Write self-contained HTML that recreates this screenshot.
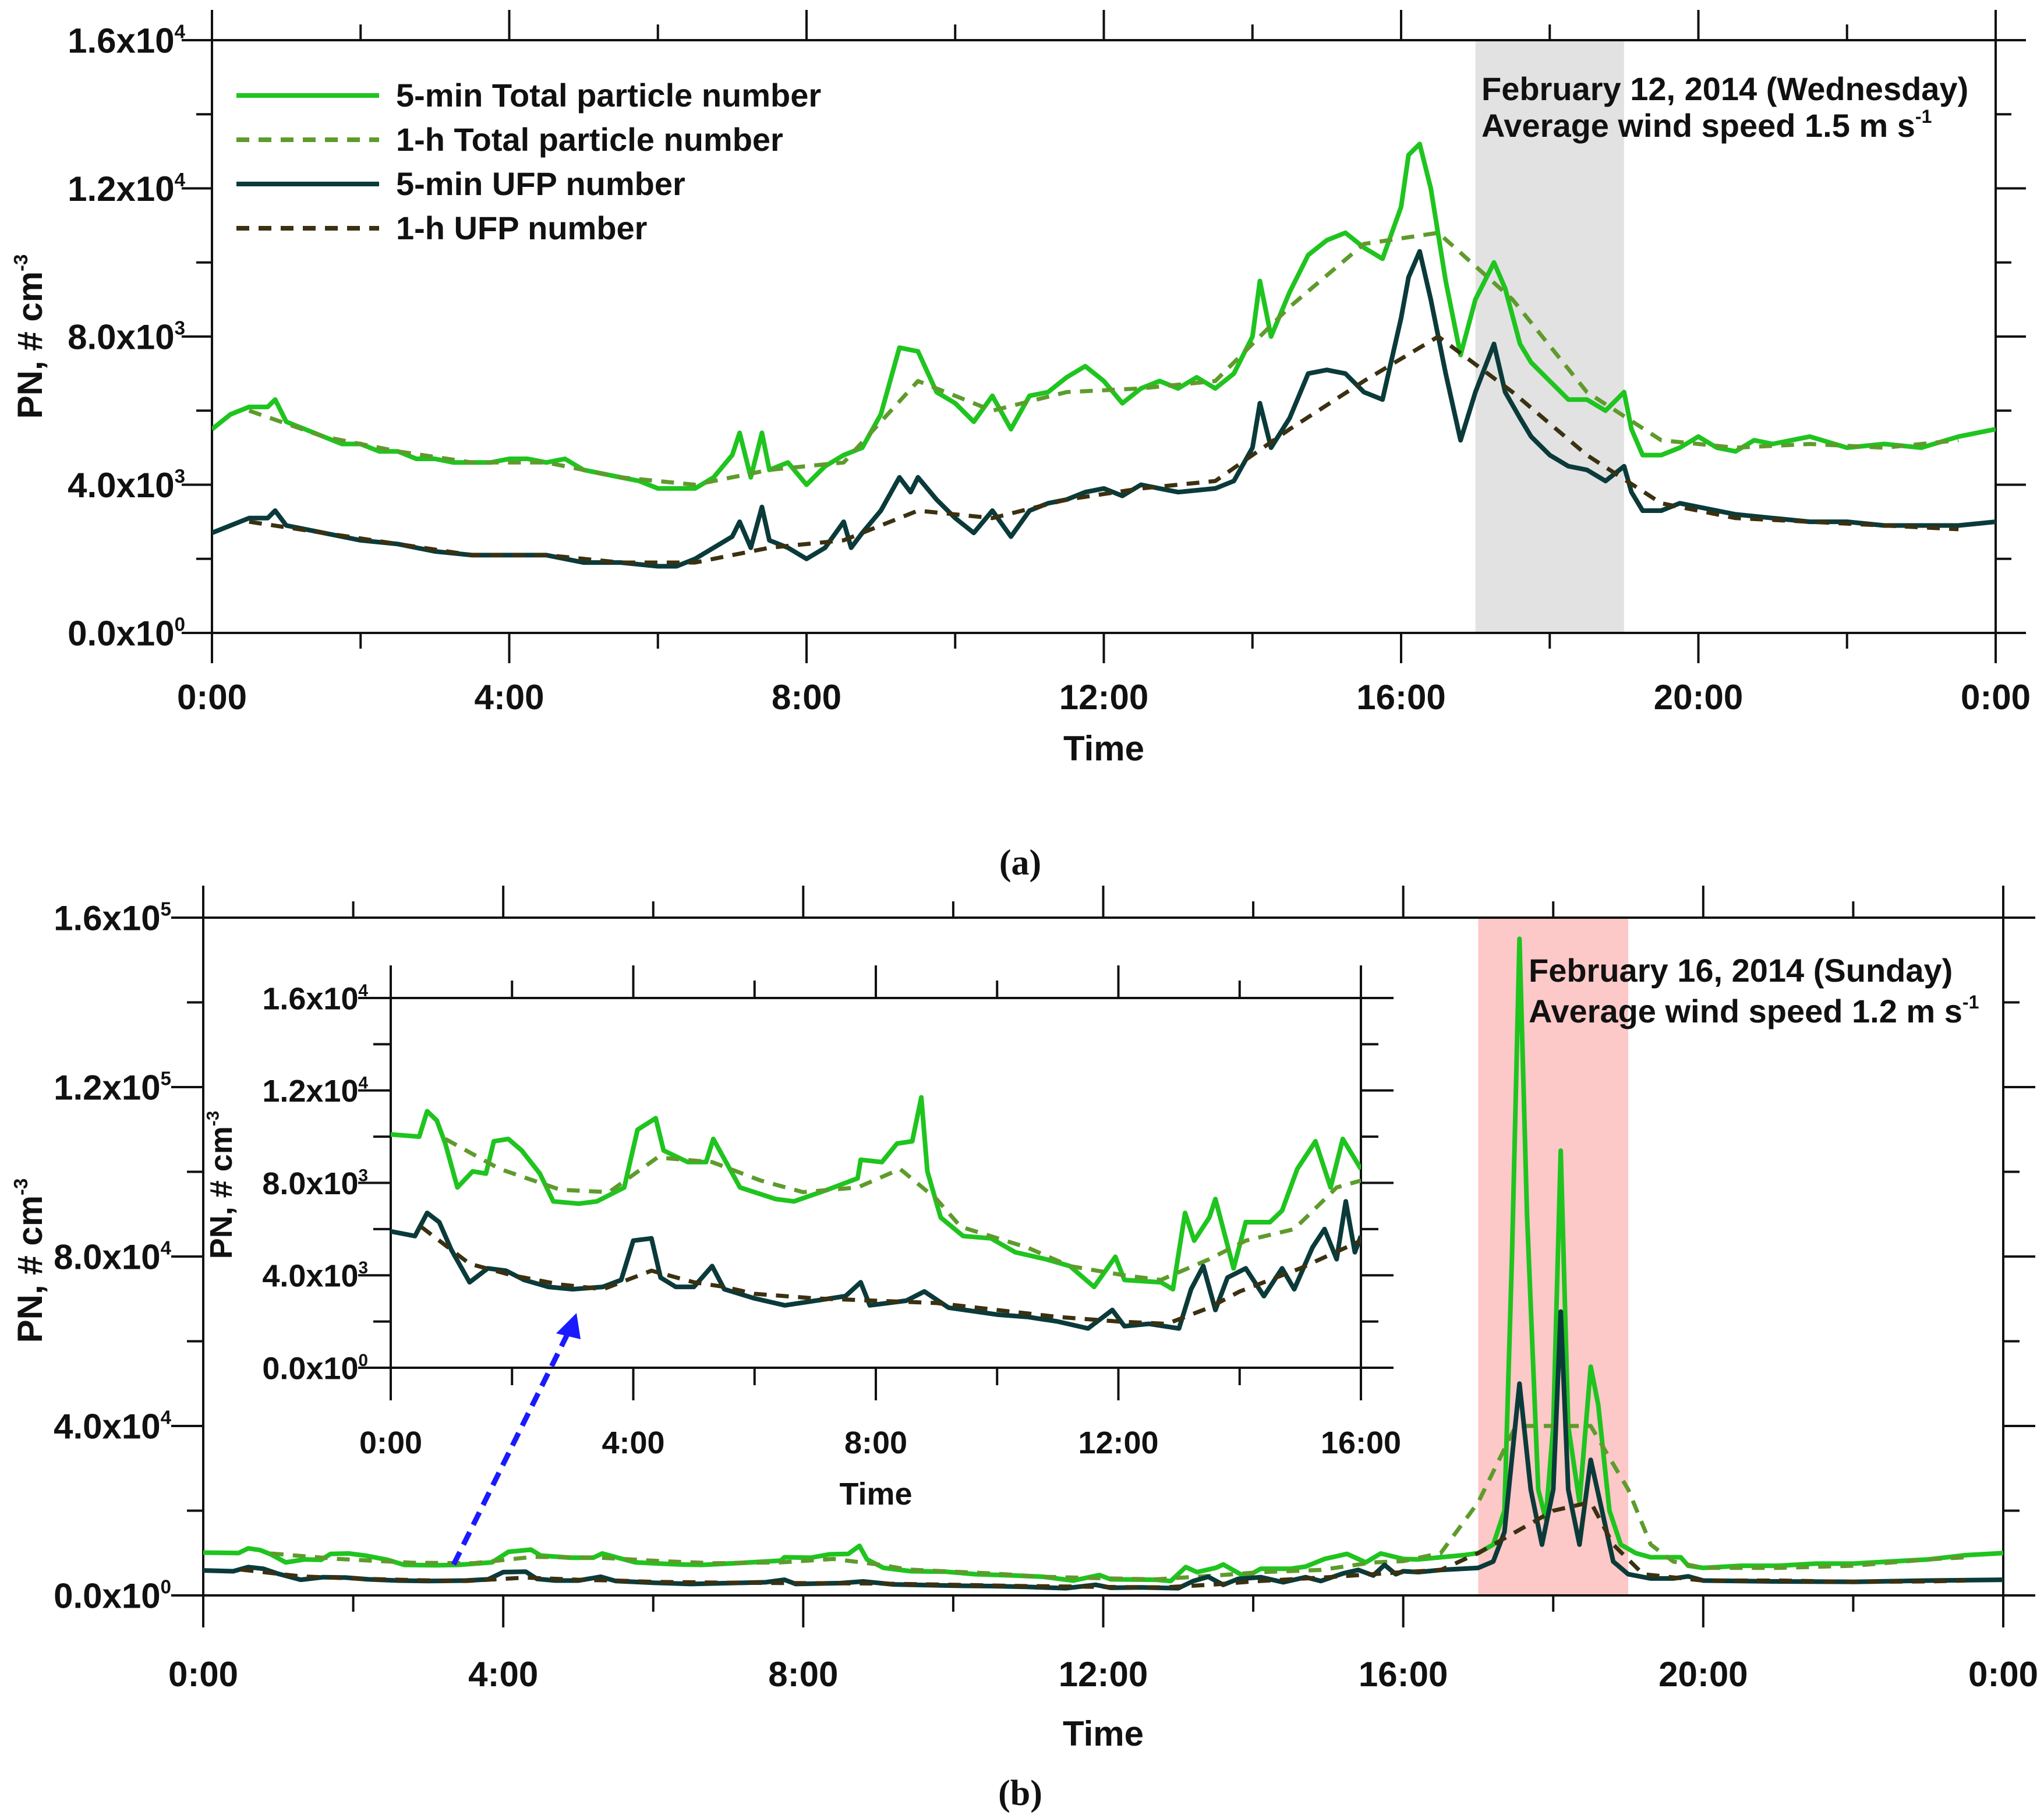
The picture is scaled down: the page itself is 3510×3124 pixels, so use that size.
<!DOCTYPE html>
<html><head><meta charset="utf-8"><style>
html,body{margin:0;padding:0;background:#fff}
svg{display:block}
text{font-family:"Liberation Sans",sans-serif;font-weight:bold;fill:#111}
</style></head><body>
<svg id="fig" width="3510" height="3124" viewBox="0 0 3510 3124" xmlns="http://www.w3.org/2000/svg">
<defs>
<clipPath id="clipA"><rect x="364" y="69" width="3063" height="1018"/></clipPath>
<clipPath id="clipB"><rect x="349" y="1576" width="3091" height="1164"/></clipPath>
<clipPath id="clipI"><rect x="671" y="1714" width="1666" height="635"/></clipPath>
</defs>
<g id="panelA"></g>
<g id="panelB"></g>
<g id="inset"></g>
<text x="1752" y="1502" text-anchor="middle" style="font-family:'Liberation Serif',serif;font-weight:bold;font-size:62px">(a)</text>
<text x="1752" y="3100" text-anchor="middle" style="font-family:'Liberation Serif',serif;font-weight:bold;font-size:62px">(b)</text>
</svg>
<script>
// ---------- Panel (a) data (values in thousands, times in hours) ----------
const aTotT=[0,0.25,0.5,0.75,0.85,1,1.25,1.5,1.75,2,2.25,2.5,2.75,3,3.25,3.5,3.75,4,4.25,4.5,4.75,5,5.25,5.5,5.75,6,6.25,6.5,6.75,7,7.1,7.25,7.4,7.5,7.75,8,8.25,8.5,8.75,9,9.25,9.5,9.75,10,10.25,10.5,10.75,11,11.25,11.5,11.75,12,12.25,12.5,12.75,13,13.25,13.5,13.75,14,14.1,14.25,14.5,14.75,15,15.25,15.5,15.75,16,16.1,16.25,16.4,16.6,16.8,17,17.25,17.4,17.6,17.75,18,18.25,18.5,18.75,19,19.1,19.25,19.5,19.75,20,20.25,20.5,20.75,21,21.5,22,22.5,23,23.5,24];
const aTotV=[5.5,5.9,6.1,6.1,6.3,5.7,5.5,5.3,5.1,5.1,4.9,4.9,4.7,4.7,4.6,4.6,4.6,4.7,4.7,4.6,4.7,4.4,4.3,4.2,4.1,3.9,3.9,3.9,4.2,4.8,5.4,4.2,5.4,4.4,4.6,4.0,4.5,4.8,5.0,5.9,7.7,7.6,6.5,6.2,5.7,6.4,5.5,6.4,6.5,6.9,7.2,6.8,6.2,6.6,6.8,6.6,6.9,6.6,7.0,8.0,9.5,8.0,9.2,10.2,10.6,10.8,10.4,10.1,11.5,12.9,13.2,12.0,9.5,7.5,9.0,10.0,9.3,7.8,7.3,6.8,6.3,6.3,6.0,6.5,5.5,4.8,4.8,5.0,5.3,5.0,4.9,5.2,5.1,5.3,5.0,5.1,5.0,5.3,5.5];
const aUfpT=[0,0.25,0.5,0.75,0.85,1,1.5,2,2.5,3,3.5,4,4.5,5,5.5,6,6.25,6.5,7,7.1,7.25,7.4,7.5,7.75,8,8.25,8.5,8.6,8.75,9,9.25,9.4,9.5,9.75,10,10.25,10.5,10.75,11,11.25,11.5,11.75,12,12.25,12.5,12.75,13,13.5,13.75,14,14.1,14.25,14.5,14.75,15,15.25,15.5,15.75,16,16.1,16.25,16.4,16.6,16.8,17,17.25,17.4,17.6,17.75,18,18.25,18.5,18.75,19,19.1,19.25,19.5,19.75,20,20.5,21,21.5,22,22.5,23,23.5,24];
const aUfpV=[2.7,2.9,3.1,3.1,3.3,2.9,2.7,2.5,2.4,2.2,2.1,2.1,2.1,1.9,1.9,1.8,1.8,2.0,2.6,3.0,2.3,3.4,2.5,2.3,2.0,2.3,3.0,2.3,2.7,3.3,4.2,3.8,4.2,3.6,3.1,2.7,3.3,2.6,3.3,3.5,3.6,3.8,3.9,3.7,4.0,3.9,3.8,3.9,4.1,5.0,6.2,5.0,5.8,7.0,7.1,7.0,6.5,6.3,8.5,9.6,10.3,9.0,7.0,5.2,6.5,7.8,6.5,5.8,5.3,4.8,4.5,4.4,4.1,4.5,3.8,3.3,3.3,3.5,3.4,3.2,3.1,3.0,3.0,2.9,2.9,2.9,3.0];
const aHourT=[0.5,1.5,2.5,3.5,4.5,5.5,6.5,7.5,8.5,9.5,10.5,11.5,12.5,13.5,14.5,15.5,16.5,17.5,18.5,19.5,20.5,21.5,22.5,23.5];
const aTot1hV=[6.0,5.3,4.9,4.6,4.6,4.2,4.0,4.4,4.6,6.8,6.0,6.5,6.6,6.8,8.8,10.5,10.8,9.0,6.5,5.2,5.0,5.1,5.0,5.2];
const aUfp1hV=[3.0,2.7,2.4,2.1,2.1,1.9,1.9,2.3,2.5,3.3,3.1,3.6,3.9,4.1,5.5,6.8,8.0,6.5,4.8,3.5,3.1,3.0,2.9,2.8];

// ---------- Panel (b) data (values in thousands, times in hours) ----------
const bTotT=[0,0.47,0.6,0.76,0.9,1.1,1.35,1.57,1.7,1.94,2.16,2.46,2.68,3.1,3.4,3.85,4.07,4.37,4.5,4.9,5.2,5.32,5.76,6.35,6.65,7.2,7.7,7.75,8.1,8.35,8.6,8.75,8.85,9.07,9.44,9.9,10.3,10.8,11.2,11.6,11.95,12.1,12.7,12.9,13.1,13.25,13.5,13.6,13.9,14.1,14.5,14.7,14.95,15.25,15.5,15.7,16,16.2,16.5,16.8,17,17.2,17.35,17.45,17.55,17.65,17.8,17.9,18,18.1,18.2,18.35,18.5,18.6,18.75,18.9,19.1,19.3,19.5,19.7,19.8,20,20.5,21,21.5,22,22.5,23,23.5,24];
const bTotV=[10.1,10.0,11.1,10.7,9.7,7.8,8.5,8.4,9.8,9.9,9.4,8.4,7.2,7.1,7.2,7.8,10.3,10.8,9.4,8.9,8.9,9.9,7.8,7.3,7.2,7.7,8.2,9.0,8.9,9.7,9.8,11.7,8.5,6.5,5.7,5.6,5.0,4.7,4.4,3.5,4.8,3.8,3.7,3.4,6.7,5.5,6.5,7.3,4.3,6.3,6.3,6.8,8.6,9.8,7.8,9.9,8.6,8.5,9,9.5,10,12,20,80,155,90,25,18,40,105,40,22,54,45,20,12,10,9,9,9,7,6.5,7,7,7.5,7.5,8,8.5,9.5,10];
const bUfpT=[0,0.4,0.6,0.8,1.0,1.3,1.6,1.9,2.2,2.6,3.0,3.5,3.8,4.0,4.3,4.45,4.7,5.0,5.3,5.5,6.0,6.5,7.0,7.5,7.75,7.9,8.5,8.8,9.2,10.0,10.5,11.0,11.5,11.9,12.1,12.5,13.0,13.2,13.4,13.6,13.8,14.1,14.4,14.7,14.9,15.2,15.4,15.6,15.75,15.9,16,16.2,16.5,17,17.2,17.35,17.55,17.7,17.85,18,18.1,18.2,18.35,18.5,18.65,18.8,19,19.3,19.6,19.8,20,21,22,23,24];
const bUfpV=[5.9,5.7,6.7,6.3,5.1,3.7,4.3,4.2,3.8,3.5,3.4,3.5,3.8,5.5,5.6,3.9,3.5,3.5,4.4,3.4,3.0,2.7,2.9,3.1,3.7,2.7,2.9,3.3,2.6,2.3,2.2,2.0,1.7,2.5,1.8,1.9,1.7,3.4,4.4,2.5,3.9,4.3,3.1,4.3,3.4,5.2,6.0,4.7,7.2,5.0,5.7,5.5,6,6.5,8,15,50,25,12,25,67,25,12,32,20,8,5,4,4,4.5,3.5,3.3,3.2,3.5,3.7];
const bTot1hT=[0.9,1.8,2.8,3.6,4.4,5.3,6.1,6.8,7.7,8.4,9.0,9.4,10.5,11.2,12.1,12.7,13.5,14.1,14.9,15.6,16,16.5,17,17.5,18,18.5,19,19.3,19.6,20,21,22,23,23.5];
const bTot1hV=[9.9,8.6,7.7,7.6,9.1,8.9,8.1,7.6,7.8,8.6,7.3,6.1,5.2,4.4,4.0,3.8,4.7,5.5,6.0,7.8,8.1,10,22,40,40,40,25,12,8,6.5,6.5,7,8.5,9];
const bUfp1hT=[0.5,1.3,2.0,2.8,3.5,4.3,5.0,5.5,6.0,7.0,8.0,9.0,10.0,11.0,12.0,12.8,13.5,14.0,15.0,16.0,16.5,17,17.5,18,18.5,18.8,19.2,20,21,22,23,23.5];
const bUfp1hV=[6.1,4.5,4.0,3.6,3.4,4.2,3.7,3.5,3.2,3.0,2.9,2.8,2.5,2.2,2.0,1.9,2.6,3.3,4.3,5.5,6,10,15,20,22,12,5,3.5,3.5,3.2,3.3,3.5];

// ---------- tick labels ----------
const aYTicks=[0,4,8,12,16];
const aYTickMant=["0.0","4.0","8.0","1.2","1.6"];
const aYTickExp=["0","3","3","4","4"];
const bYTicks=[0,40,80,120,160];
const bYTickMant=["0.0","4.0","8.0","1.2","1.6"];
const bYTickExp=["0","4","4","5","5"];
const xTickHours=[0,4,8,12,16,20,24];
const xTickLabels=["0:00","4:00","8:00","12:00","16:00","20:00","0:00"];
const insetXTickHours=[0,4,8,12,16];
const insetXTickLabels=["0:00","4:00","8:00","12:00","16:00"];

const NS="http://www.w3.org/2000/svg";
function mk(parent,tag,attrs){const e=document.createElementNS(NS,tag);for(const k in attrs)e.setAttribute(k,attrs[k]);parent.appendChild(e);return e;}

const C_TOT="#1fc41f", C_TOT1="#5e9b2c", C_UFP="#0b3a3a", C_UFP1="#3b3010";

function axes(g,L,R,T,B,hours,minorStep,maxV,yTicks,yMant,yExp,xLabHours,xLabels,opt){
  const xs=t=>L+t/hours*(R-L);
  const ys=v=>B-v/maxV*(B-T);
  const frame=mk(g,'rect',{x:L,y:T,width:R-L,height:B-T,fill:opt.fill||'none',stroke:'#111','stroke-width':4});
  
  
  const maj=opt.maj, mnr=opt.mnr;
  for(let h=0;h<=hours+1e-9;h+=minorStep){
    const isMaj=Math.abs(h/4-Math.round(h/4))<1e-6;
    const len=isMaj?maj:mnr, x=xs(h);
    const t1=mk(g,'line',{x1:x,y1:T,x2:x,y2:T-len,stroke:'#111','stroke-width':4});
    
    
    const t2=mk(g,'line',{x1:x,y1:B,x2:x,y2:B+len,stroke:'#111','stroke-width':4});
    
    
  }
  const yStep=yTicks[1]/2;
  for(let v=0;v<=maxV+1e-9;v+=yStep){
    const isMaj=Math.abs(v/yTicks[1]-Math.round(v/yTicks[1]))<1e-6;
    const len=isMaj?maj:mnr, y=ys(v);
    const t1=mk(g,'line',{x1:L,y1:y,x2:L-len,y2:y,stroke:'#111','stroke-width':4});
    
    
    const t2=mk(g,'line',{x1:R,y1:y,x2:R+len,y2:y,stroke:'#111','stroke-width':4});
    
    
  }
  yTicks.forEach((v,i)=>{
    const tx=mk(g,'text',{x:opt.yLabX,y:ys(v)+opt.fs*0.36,'text-anchor':'end','font-size':opt.fs});
    
    
    tx.appendChild(document.createTextNode(yMant[i]+'x10'));
    const sp=mk(tx,'tspan',{dy:-opt.fs*0.42,'font-size':opt.fs*0.55});
    sp.textContent=yExp[i];
  });
  xLabHours.forEach((h,i)=>{
    const tx=mk(g,'text',{x:xs(h),y:opt.xLabY,'text-anchor':'middle','font-size':opt.fs});
    
    
    tx.textContent=xLabels[i];
  });
  const xt=mk(g,'text',{x:(L+R)/2,y:opt.xTitleY,'text-anchor':'middle','font-size':opt.fs});
  
  
  xt.textContent='Time';
  const yt=mk(g,'text',{x:0,y:0,'text-anchor':'middle','font-size':opt.fs,transform:`translate(${opt.yTitleX},${opt.yTitleY}) rotate(-90)`});
  
  
  yt.appendChild(document.createTextNode('PN, # cm'));
  const s=mk(yt,'tspan',{dy:-opt.fs*0.42,'font-size':opt.fs*0.55});s.textContent='-3';
  return {xs,ys};
}

function series(g,xs,ys,T,V,color,dashed,name,clip,w,maxT){
  let d='';
  for(let i=0;i<T.length;i++){ if(maxT!==undefined&&T[i]>maxT+1e-9)break; d+=(d?'L':'M')+xs(T[i]).toFixed(1)+','+ys(V[i]).toFixed(1);}
  const p=mk(g,'path',{d,fill:'none',stroke:color,'stroke-width':w,'stroke-linejoin':'round','clip-path':`url(#${clip})`});
  if(dashed)p.setAttribute('stroke-dasharray','22 16');
  
  
}

// ----- Panel A -----
(function(){
  const g=document.getElementById('panelA');
  const L=364,R=3427,T=69,B=1087;
  const xsTmp=t=>L+t/24*(R-L);
  const sh=mk(g,'rect',{x:xsTmp(17),y:T,width:xsTmp(19)-xsTmp(17),height:B-T,fill:'#e2e2e2'});
  
  
  const {xs,ys}=axes(g,L,R,T,B,24,2,16,aYTicks,aYTickMant,aYTickExp,xTickHours,xTickLabels,
    {maj:52,mnr:27,fs:60,yLabX:318,xLabY:1218,xTitleY:1306,yTitleX:72,yTitleY:578});
  series(g,xs,ys,aTotT,aTotV,C_TOT,false,'line-5min-total','clipA',8);
  series(g,xs,ys,aHourT,aTot1hV,C_TOT1,true,'line-1h-total','clipA',7);
  series(g,xs,ys,aUfpT,aUfpV,C_UFP,false,'line-5min-ufp','clipA',8);
  series(g,xs,ys,aHourT,aUfp1hV,C_UFP1,true,'line-1h-ufp','clipA',7);
  const leg=[["5-min Total particle number",C_TOT,false],["1-h Total particle number",C_TOT1,true],["5-min UFP number",C_UFP,false],["1-h UFP number",C_UFP1,true]];
  const lg=mk(g,'g',{});
  
  
  leg.forEach((e,i)=>{
    const y=164+i*76;
    const ln=mk(lg,'line',{x1:406,y1:y,x2:651,y2:y,stroke:e[1],'stroke-width':8});
    if(e[2])ln.setAttribute('stroke-dasharray','22 16');
    
    
    const tx=mk(lg,'text',{x:680,y:y+19,'font-size':56});
    
    
    tx.textContent=e[0];
  });
  const a1=mk(g,'text',{x:2544,y:172,'font-size':56});
  
  
  a1.textContent='February 12, 2014 (Wednesday)';
  const a2=mk(g,'text',{x:2544,y:235,'font-size':56});
  
  
  a2.appendChild(document.createTextNode('Average wind speed 1.5 m s'));
  const s=mk(a2,'tspan',{dy:-24,'font-size':32});s.textContent='-1';
})();

// ----- Panel B -----
(function(){
  const g=document.getElementById('panelB');
  const L=349,R=3440,T=1576,B=2740;
  const xsTmp=t=>L+t/24*(R-L);
  const sh=mk(g,'rect',{x:xsTmp(17),y:T,width:xsTmp(19)-xsTmp(17),height:B-T,fill:'#fdc8c8'});
  
  
  const {xs,ys}=axes(g,L,R,T,B,24,2,160,bYTicks,bYTickMant,bYTickExp,xTickHours,xTickLabels,
    {maj:55,mnr:28,fs:60,yLabX:294,xLabY:2896,xTitleY:2998,yTitleX:72,yTitleY:2165});
  series(g,xs,ys,bTotT,bTotV,C_TOT,false,'line-5min-total','clipB',8);
  series(g,xs,ys,bTot1hT,bTot1hV,C_TOT1,true,'line-1h-total','clipB',7);
  series(g,xs,ys,bUfpT,bUfpV,C_UFP,false,'line-5min-ufp','clipB',8);
  series(g,xs,ys,bUfp1hT,bUfp1hV,C_UFP1,true,'line-1h-ufp','clipB',7);
  const a1=mk(g,'text',{x:2625,y:1686,'font-size':56});
  
  
  a1.textContent='February 16, 2014 (Sunday)';
  const a2=mk(g,'text',{x:2625,y:1756,'font-size':56});
  
  
  a2.appendChild(document.createTextNode('Average wind speed 1.2 m s'));
  const s=mk(a2,'tspan',{dy:-24,'font-size':32});s.textContent='-1';
})();

// ----- Inset -----
(function(){
  const g=document.getElementById('inset');
  const L=671,R=2337,T=1714,B=2349;
  const {xs,ys}=axes(g,L,R,T,B,16,2,16,aYTicks,aYTickMant,aYTickExp,insetXTickHours,insetXTickLabels,
    {maj:56,mnr:30,fs:54,yLabX:632,xLabY:2496,xTitleY:2584,yTitleX:398,yTitleY:2035,fill:'#fff'});
  series(g,xs,ys,bTotT,bTotV,C_TOT,false,'inset-line-5min-total','clipI',8,16);
  series(g,xs,ys,bTot1hT,bTot1hV,C_TOT1,true,'inset-line-1h-total','clipI',7,16);
  series(g,xs,ys,bUfpT,bUfpV,C_UFP,false,'inset-line-5min-ufp','clipI',8,16);
  series(g,xs,ys,bUfp1hT,bUfp1hV,C_UFP1,true,'inset-line-1h-ufp','clipI',7,16);
  const ar=mk(g,'line',{x1:779,y1:2687,x2:975,y2:2290,stroke:'#1a1aff','stroke-width':9,'stroke-dasharray':'24 14'});
  
  
  const hd=mk(g,'polygon',{points:'990,2255 955,2290 997,2300',fill:'#1a1aff'});
  
  
})();
</script>
</body></html>
